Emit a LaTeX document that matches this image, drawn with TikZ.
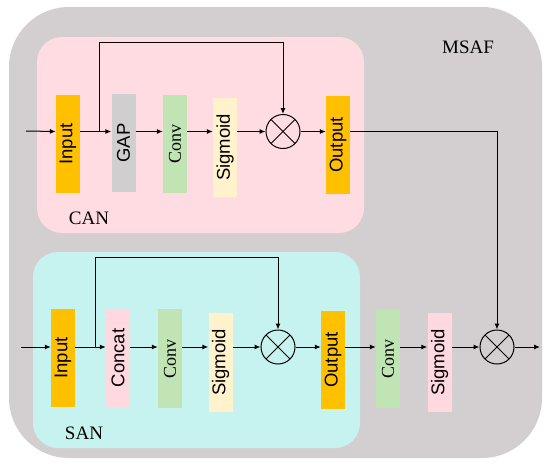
\documentclass[tikz,border=0pt]{standalone}
\usepackage{fontspec}
\setmainfont{Liberation Serif}
\newfontfamily\arialf{Liberation Sans}
\usetikzlibrary{arrows.meta}
\definecolor{outerg}{HTML}{D3CFD0}
\definecolor{pinkbg}{HTML}{FFDCE2}
\definecolor{cyanbg}{HTML}{C6F3EF}
\definecolor{orng}{HTML}{FFC000}
\definecolor{gapg}{HTML}{D0CECE}
\definecolor{grn}{HTML}{C0E4B4}
\definecolor{crm}{HTML}{FFF2CC}
\definecolor{pnk}{HTML}{FFD8E0}
\begin{document}
\begin{tikzpicture}[x=1pt,y=-1pt,
  blk/.style={rectangle, minimum width=24pt, inner sep=0pt, font=\arialf\fontsize{18.5}{20}\selectfont},
  blkc/.style={rectangle, minimum width=24pt, inner sep=0pt, font=\fontsize{18}{20}\selectfont},
  mul/.style={circle, draw, line width=1pt, minimum size=34pt, inner sep=0pt,
    path picture={\draw[line width=0.9pt] (path picture bounding box.north west) -- (path picture bounding box.south east)
      (path picture bounding box.north east) -- (path picture bounding box.south west);}},
  arr/.style={line width=1pt, -{Latex[length=6pt,width=5pt]}},
  ln/.style={line width=1pt},
  lab/.style={font=\fontsize{19}{21}\selectfont, inner sep=0pt}]
\useasboundingbox (0,0) rectangle (550,467);
\fill[white] (0,0) rectangle (550,467);
% backgrounds
\fill[outerg, rounded corners=60pt] (9,7) rectangle (542,458);
\fill[pinkbg, rounded corners=25pt] (37,37) rectangle (364,233);
\fill[cyanbg, rounded corners=25pt] (33,252) rectangle (360,448);
\node[lab] (msaf) at (468,47) {MSAF};
\node[lab] (can) at (89,218) {CAN};
\node[lab] (san) at (84,433) {SAN};
% CAN row
\coordinate (inA) at (26,131);
\node[blk, fill=orng, minimum height=98pt] (ci) at (68,144) {\rotatebox{90}{Input}};
\node[blk, fill=gapg, minimum height=98pt] (cg) at (123.5,143) {\rotatebox{90}{GAP}};
\node[blkc, fill=grn, minimum height=98pt] (cc) at (175,144) {\rotatebox{90}{Conv}};
\node[blk, fill=crm, minimum height=99pt] (cs) at (225,147.5) {\rotatebox{90}{Sigmoid}};
\node[mul] (cm) at (283,131.5) {};
\node[blk, fill=orng, minimum height=98pt] (co) at (338,145) {\rotatebox{90}{Output}};
\coordinate (rowA) at (0,131.5);
\coordinate (skA) at (99,131.5);
\coordinate (topA) at (99,42);
\draw[arr] (inA) -- (ci.west|-rowA);
\draw[arr] (ci.east|-rowA) -- (cg.west|-rowA);
\draw[arr] (cg.east|-rowA) -- (cc.west|-rowA);
\draw[arr] (cc.east|-rowA) -- (cs.west|-rowA);
\draw[arr] (cs.east|-rowA) -- (cm.west);
\draw[arr] (cm.east) -- (co.west|-rowA);
\draw[arr] (skA) -- (topA) -| (cm.north);
% SAN row
\coordinate (inB) at (21,347);
\coordinate (rowB) at (0,347);
\node[blk, fill=orng, minimum height=98pt] (si) at (63,358) {\rotatebox{90}{Input}};
\node[blk, fill=pnk, minimum height=98pt] (sc) at (118,358) {\rotatebox{90}{Concat}};
\node[blkc, fill=grn, minimum height=99pt] (sv) at (170,358.5) {\rotatebox{90}{Conv}};
\node[blk, fill=crm, minimum height=99pt] (ss) at (220.5,362.5) {\rotatebox{90}{Sigmoid}};
\node[mul] (sm) at (278,347) {};
\node[blk, fill=orng, minimum height=98pt] (so) at (333,360) {\rotatebox{90}{Output}};
\node[blkc, fill=grn, minimum height=99pt] (sv2) at (388,358.5) {\rotatebox{90}{Conv}};
\node[blk, fill=pnk, minimum height=99pt] (ss2) at (439.5,362.5) {\rotatebox{90}{Sigmoid}};
\node[mul] (fm) at (497,347) {};
\coordinate (outB) at (540,347);
\coordinate (skB) at (95,347);
\coordinate (topB) at (95,257);
\draw[arr] (inB) -- (si.west|-rowB);
\draw[arr] (si.east|-rowB) -- (sc.west|-rowB);
\draw[arr] (sc.east|-rowB) -- (sv.west|-rowB);
\draw[arr] (sv.east|-rowB) -- (ss.west|-rowB);
\draw[arr] (ss.east|-rowB) -- (sm.west);
\draw[arr] (sm.east) -- (so.west|-rowB);
\draw[arr] (so.east|-rowB) -- (sv2.west|-rowB);
\draw[arr] (sv2.east|-rowB) -- (ss2.west|-rowB);
\draw[arr] (ss2.east|-rowB) -- (fm.west);
\draw[arr] (fm.east) -- (outB);
\draw[arr] (skB) -- (topB) -| (sm.north);
% CAN output to final multiply
\draw[arr] (co.east|-rowA) -| (fm.north);
\end{tikzpicture}
\end{document}
